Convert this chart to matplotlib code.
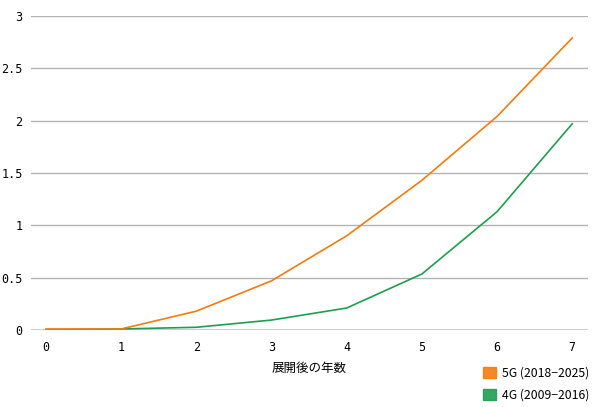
import matplotlib.pyplot as plt
from matplotlib.patches import Patch

years = [0, 1, 2, 3, 4, 5, 6, 7]
g5 = [0.01, 0.01, 0.18, 0.47, 0.90, 1.43, 2.04, 2.79]
g4 = [0.0, 0.01, 0.026, 0.095, 0.21, 0.535, 1.13, 1.97]
labels = ["5G (2018\u22122025)", "4G (2009\u22122016)"]
y_ticks = [0, 0.5, 1, 1.5, 2, 2.5, 3]
y_ticklabels = ["0", "0.5", "1", "1.5", "2", "2.5", "3"]

c5 = "#f47b0e"
c4 = "#1e9e4f"
jp = ["Noto Sans CJK JP", "DejaVu Sans"]

fig = plt.figure(figsize=(6.0, 4.07), dpi=100)
ax = fig.add_axes([31 / 600, 1 - 330 / 407, 557 / 600, 314 / 407])

ax.plot(years, g4, color=c4, lw=1.2, zorder=3)
ax.plot(years, g5, color=c5, lw=1.2, zorder=4)

ax.set_xlim(-0.2, 7.21)
ax.set_ylim(0, 3)
ax.set_yticks(y_ticks)
ax.set_yticklabels(y_ticklabels)
ax.set_xticks(years)
for y in y_ticks[1:]:
    ax.axhline(y, color="#b3b3b3", lw=1.0, zorder=1)
ax.axhline(0, color="black", lw=1.0, zorder=2)

for s in ax.spines.values():
    s.set_visible(False)
ax.tick_params(axis="x", length=0, pad=8, labelsize=8.5)
ax.tick_params(axis="y", length=0, pad=6, labelsize=8.5)
for t in ax.get_xticklabels() + ax.get_yticklabels():
    t.set_family("DejaVu Sans Mono")

ax.set_xlabel("展開後の年数", family=jp, fontsize=9, labelpad=6)

handles = [Patch(facecolor=c5, edgecolor=c5, alpha=0.9),
           Patch(facecolor=c4, edgecolor=c4, alpha=0.9)]
fig.legend(handles, labels, loc="lower right", bbox_to_anchor=(1.0, -0.014),
           frameon=False, prop={"family": jp, "size": 8.8},
           handlelength=1.0, handleheight=1.0, handletextpad=0.5,
           labelspacing=0.75)

fig.savefig("out.png", dpi=100)
